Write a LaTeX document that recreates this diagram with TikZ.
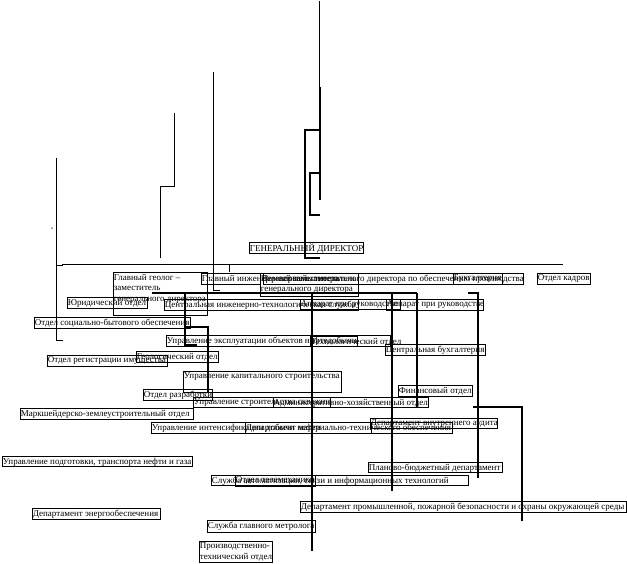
\documentclass[tikz,border=0pt]{standalone}
\usepackage{fontspec}
\setmainfont{Liberation Serif}
\usetikzlibrary{fit}
\tikzset{
  frame/.style={draw, line width=0.7pt, inner sep=0pt},
  boxtext/.style={anchor=north west, inner sep=0pt, align=left, font=\fontsize{9}{10.5}\selectfont},
  heavy/.style={line width=1.8pt},
  medium/.style={line width=1pt},
  hair/.style={line width=0.8pt},
}
\newcommand\orgbox[6]{%
  \node[frame, fit={(#2,#3) (#4,#5)}] (#1) {};
  \node[boxtext] (#1t) at ([xshift=1pt,yshift=-2pt]#1.north west) {#6};
}
\begin{document}
\begin{tikzpicture}[x=1pt,y=-1pt]
\useasboundingbox (0,0) rectangle (627,563);

\orgbox{gen}{249}{242}{363}{253}{ГЕНЕРАЛЬНЫЙ ДИРЕКТОР}
\orgbox{geol}{113}{272}{207}{315}{Главный геолог –\\заместитель\\генерального директора}
\orgbox{glinzh}{201}{273}{260}{284}{Главный инженер – первый заместитель}
\orgbox{perv}{260}{273}{358}{296}{Первый заместитель\\генерального директора}
\orgbox{zampo}{263}{273}{523}{284}{Заместитель генерального директора по обеспечению производства}
\orgbox{buh}{453}{273}{502}{284}{Бухгалтерия}
\orgbox{kadr}{537}{273}{590}{284}{Отдел кадров}
\orgbox{yur}{67}{297}{147}{308}{Юридический отдел}
\orgbox{cits}{164}{299}{358}{310}{Центральная инженерно-технологическая служба}
\orgbox{appA}{300}{299}{400}{309}{Аппарат при руководстве}
\orgbox{appB}{386}{299}{483}{310}{Аппарат при руководстве}
\orgbox{sbo}{34}{317}{190}{328}{Отдел  социально-бытового обеспечения}
\orgbox{uen}{166}{335}{390}{346}{Управление  эксплуатации объектов нефтедобычи}
\orgbox{tech}{310}{336}{357}{346}{Технологический отдел}
\orgbox{cbuh}{385}{344}{485}{355}{Центральная бухгалтерия}
\orgbox{geo}{136}{351}{218}{362}{Геологический отдел}
\orgbox{reg}{47}{355}{167}{366}{Отдел регистрации имущества}
\orgbox{uks}{183}{371}{341}{392}{Управление  капитального строительства}
\orgbox{fin}{398}{385}{472}{396}{Финансовый отдел}
\orgbox{razr}{143}{389}{212}{400}{Отдел разработки}
\orgbox{uss}{193}{397}{428}{407}{Управление строительства скважин}
\orgbox{aho}{273}{397}{330}{407}{Административно-хозяйственный отдел}
\orgbox{mz}{20}{408}{193}{419}{Маркшейдерско-землеустроительный  отдел}
\orgbox{dva}{370}{418}{497}{428}{Департамент внутреннего аудита}
\orgbox{uint}{151}{422}{371}{433}{Управление интенсификации добычи нефти}
\orgbox{dmto}{245}{422}{452}{433}{Департамент материально-технического обеспечения}
\orgbox{uptng}{2}{456}{192}{466}{Управление подготовки, транспорта нефти и газа}
\orgbox{pbd}{368}{462}{502}{472}{Планово-бюджетный департамент}
\orgbox{sasit}{211}{475}{468}{485}{Служба автоматизации, связи и информационных технологий}
\orgbox{otm}{235}{475}{315}{486}{Отдел телемеханики}
\orgbox{dppb}{300}{501}{626.6}{512}{Департамент промышленной, пожарной безопасности и охраны окружающей среды}
\orgbox{de}{32}{508}{160}{519}{Департамент энергообеспечения}
\orgbox{sgm}{207}{520}{315}{532}{Служба главного метролога}
\orgbox{pto}{199}{541}{272}{562.6}{Производственно-\\технический отдел}

% connectors
\coordinate (dot) at (52,228);
\fill[gray] (dot) circle (1pt);
\draw[medium] (56,158) -- (56,340) -- (63,340);
\draw[medium] (56,265) -- (63,265);
\draw[medium] (174,113) -- (174,186) -- (160,186) -- (160,258);
\draw[medium] (213,72) -- (213,290) -- (220,290);
\draw[hair] (319,1) -- (319,200);
\draw[hair] (62,264) -- (563,264);
\draw[hair] (229,264) -- (229,272);
\draw[heavy] (320,87) -- (320,200);
\draw[heavy] (320,130) -- (305,130) -- (305,258) -- (320,258);
\draw[heavy] (320,173) -- (310,173) -- (310,215) -- (320,215);
\draw[heavy] (152,293) -- (417,293);
\draw[heavy] (312,293) -- (312,551);
\draw[heavy] (392,293) -- (392,491);
\draw[heavy] (417,293) -- (417,407);
\draw[heavy] (468,293) -- (478,293) -- (478,478);
\draw[heavy] (473,407) -- (522,407) -- (522,521);
\draw[heavy] (185,293) -- (185,345) -- (197,345);
\draw[heavy] (185,327) -- (208,327) -- (208,392);
\end{tikzpicture}
\end{document}
